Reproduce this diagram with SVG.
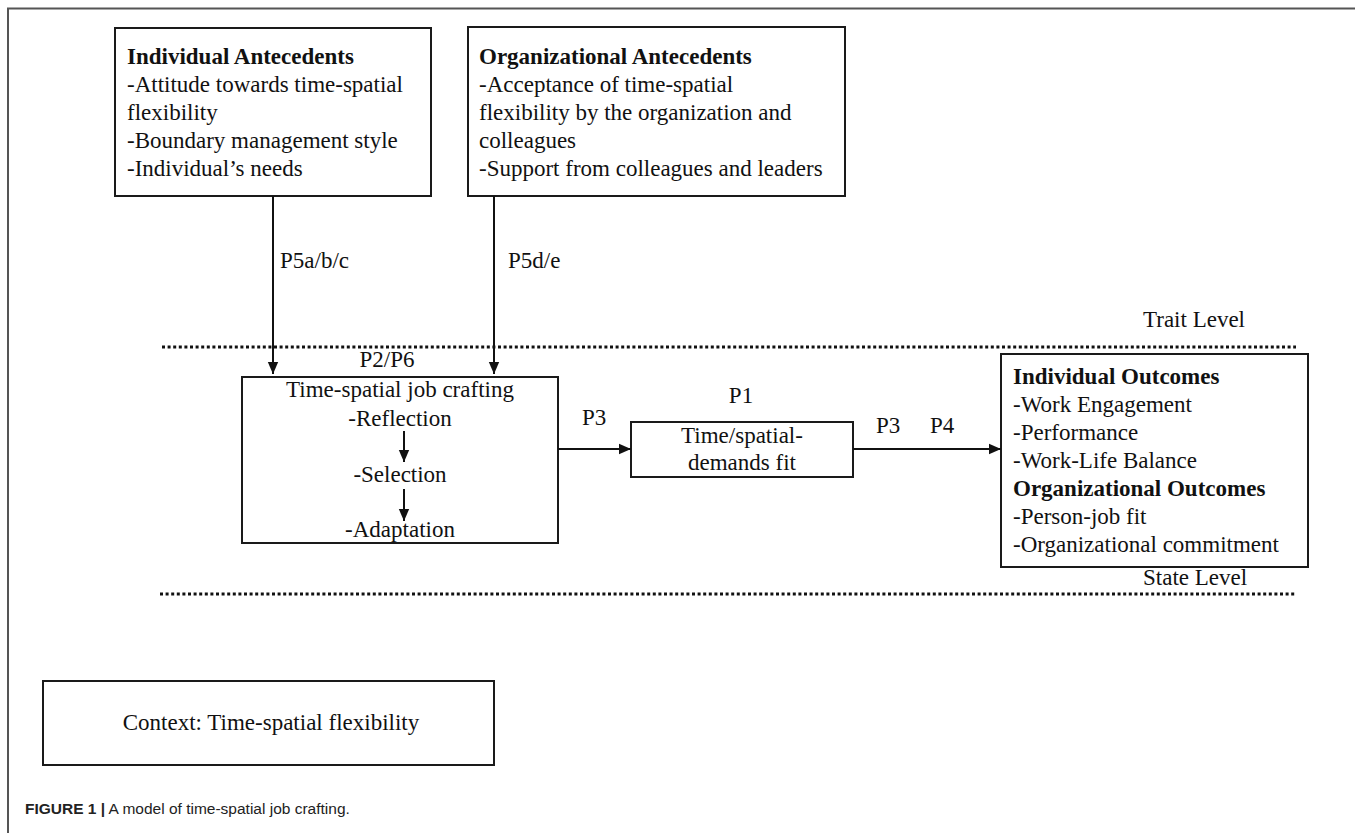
<svg xmlns="http://www.w3.org/2000/svg" width="1355" height="833" viewBox="0 0 1355 833">
<defs>
<marker id="ah" markerUnits="userSpaceOnUse" markerWidth="12" markerHeight="12" viewBox="0 0 12 12" refX="12" refY="6" orient="auto">
<path d="M0,0.8 L12,6 L0,11.2 Z" fill="#111"/>
</marker>
<style>
.box{fill:#fff;stroke:#1a1a1a;stroke-width:2}
.t{font-family:"Liberation Serif","Times New Roman",serif;font-size:23px;fill:#111}
.b{font-weight:bold}
.m{text-anchor:middle}
.c{stroke:#111;stroke-width:2;fill:none}
.dot{stroke:#111;stroke-width:3;stroke-dasharray:3 2.6}
.frame{stroke:#555;stroke-width:2;fill:none}
.cap{font-family:"Liberation Sans",Arial,sans-serif;font-size:15.5px;fill:#222}
</style>
</defs>
<rect width="1355" height="833" fill="#fff"/>
<path class="frame" d="M8,833 V8.5 H1355"/>
<g id="levels">
<line class="dot" x1="162" y1="347" x2="1296" y2="347"/>
<line class="dot" x1="160" y1="594" x2="1296" y2="594"/>
<text class="t" x="1143" y="327">Trait Level</text>
<text class="t" x="1143" y="585">State Level</text>
</g>
<g id="individual-antecedents">
<rect class="box" x="115" y="28" width="316" height="168"/>
<text class="t b" x="127" y="64">Individual Antecedents</text>
<text class="t" x="127" y="92">-Attitude towards time-spatial</text>
<text class="t" x="127" y="120">flexibility</text>
<text class="t" x="127" y="148">-Boundary management style</text>
<text class="t" x="127" y="176">-Individual’s needs</text>
</g>
<g id="organizational-antecedents">
<rect class="box" x="468" y="27" width="377" height="169"/>
<text class="t b" x="479" y="64">Organizational Antecedents</text>
<text class="t" x="479" y="92">-Acceptance of time-spatial</text>
<text class="t" x="479" y="120">flexibility by the organization and</text>
<text class="t" x="479" y="148">colleagues</text>
<text class="t" x="479" y="176">-Support from colleagues and leaders</text>
</g>
<g id="job-crafting">
<rect class="box" x="242" y="377" width="316" height="166"/>
<text class="t m" x="400" y="397">Time-spatial job crafting</text>
<text class="t m" x="400" y="426">-Reflection</text>
<text class="t m" x="400" y="482">-Selection</text>
<text class="t m" x="400" y="537">-Adaptation</text>
</g>
<g id="demands-fit">
<rect class="box" x="631" y="422" width="222" height="55"/>
<text class="t m" x="742" y="443">Time/spatial-</text>
<text class="t m" x="742" y="470">demands fit</text>
</g>
<g id="outcomes">
<rect class="box" x="1001" y="354" width="307" height="213"/>
<text class="t b" x="1013" y="384">Individual Outcomes</text>
<text class="t" x="1013" y="412">-Work Engagement</text>
<text class="t" x="1013" y="440">-Performance</text>
<text class="t" x="1013" y="468">-Work-Life Balance</text>
<text class="t b" x="1013" y="496">Organizational Outcomes</text>
<text class="t" x="1013" y="524">-Person-job fit</text>
<text class="t" x="1013" y="552">-Organizational commitment</text>
</g>
<g id="context">
<rect class="box" x="43" y="681" width="451" height="84"/>
<text class="t m" x="271" y="730">Context: Time-spatial flexibility</text>
</g>
<g id="connectors">
<line class="c" x1="273" y1="196" x2="273" y2="374" marker-end="url(#ah)"/>
<line class="c" x1="494" y1="196" x2="494" y2="374" marker-end="url(#ah)"/>
<line class="c" x1="404" y1="431" x2="404" y2="462" marker-end="url(#ah)"/>
<line class="c" x1="404" y1="489" x2="404" y2="521" marker-end="url(#ah)"/>
<line class="c" x1="558" y1="449" x2="631" y2="449" marker-end="url(#ah)"/>
<line class="c" x1="853" y1="449" x2="1001" y2="449" marker-end="url(#ah)"/>
<text class="t" x="280" y="268">P5a/b/c</text>
<text class="t" x="508" y="268">P5d/e</text>
<text class="t m" x="387" y="367">P2/P6</text>
<text class="t" x="582" y="425">P3</text>
<text class="t m" x="741" y="403">P1</text>
<text class="t" x="876" y="433">P3</text>
<text class="t" x="930" y="433">P4</text>
</g>
<text class="cap" x="25" y="814"><tspan font-weight="bold">FIGURE 1 |</tspan> A model of time-spatial job crafting.</text>
</svg>
